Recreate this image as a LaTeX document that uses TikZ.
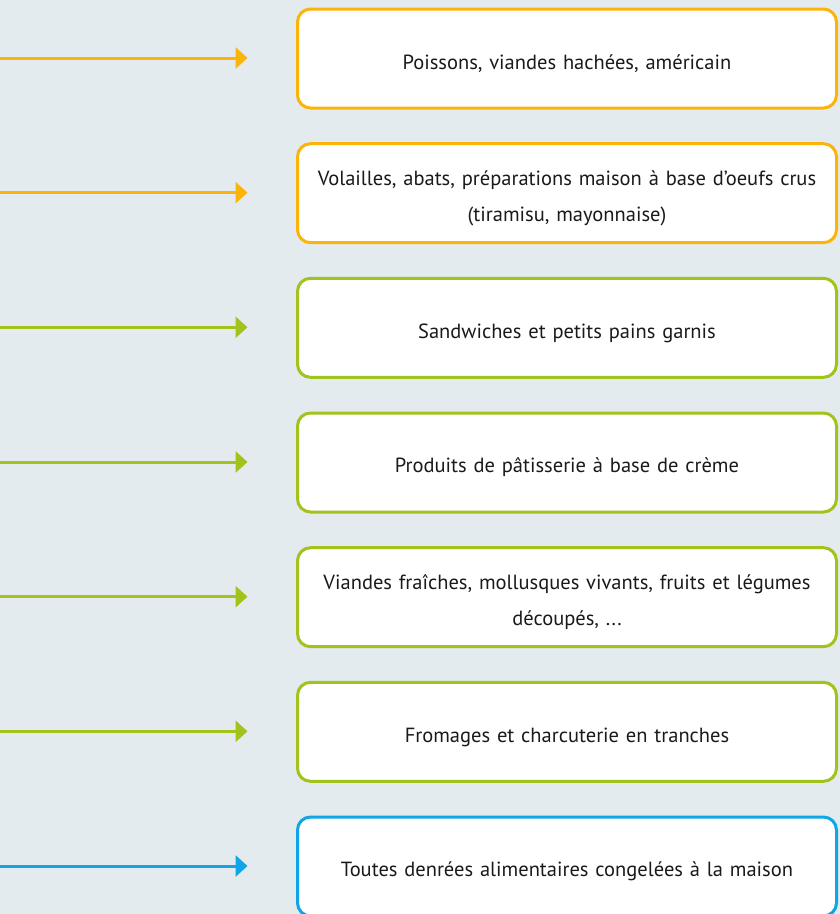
\documentclass[tikz,border=0pt]{standalone}
\usepackage{fontspec}
\setmainfont{PT Sans}
\usetikzlibrary{arrows.meta}
\definecolor{bg}{HTML}{E3EBEE}
\definecolor{orA}{HTML}{FBB40A}
\definecolor{grA}{HTML}{A2C21C}
\definecolor{blA}{HTML}{0FA5E6}
\definecolor{txt}{HTML}{1A1A1A}
\tikzset{
  catbox/.style={draw=#1, line width=3pt, fill=white, rounded corners=13pt,
    minimum width=539pt, minimum height=99pt, inner sep=0pt,
    align=center, text width=525pt, text=txt,
    font=\fontsize{20.5}{36.5}\selectfont,
    execute at begin node={\rule{0pt}{25pt}}},
  link/.style={draw=#1, line width=3pt, shorten >=48.5pt,
    -{Triangle[length=12pt,width=21pt]}, #1},
}
\begin{document}
\begin{tikzpicture}[x=1pt,y=-1pt]
\fill[bg] (0,0) rectangle (840,914);
\useasboundingbox (0,0) rectangle (840,914);
\begin{scope}
\clip (0,0) rectangle (840,914);
\node[catbox=orA] (b1) at (567,58.5) {Poissons, viandes hachées, américain};
\node[catbox=orA] (b2) at (567,193.2) {Volailles, abats, préparations maison à base d’oeufs crus\\(tiramisu, mayonnaise)};
\node[catbox=grA] (b3) at (567,327.8) {Sandwiches et petits pains garnis};
\node[catbox=grA] (b4) at (567,462.5) {Produits de pâtisserie à base de crème};
\node[catbox=grA] (b5) at (567,597.2) {Viandes fraîches, mollusques vivants, fruits et légumes\\découpés, ...};
\node[catbox=grA] (b6) at (567,731.8) {Fromages et charcuterie en tranches};
\node[catbox=blA] (b7) at (567,866.5) {Toutes denrées alimentaires congelées à la maison};
\coordinate (s1) at (-2,58);
\coordinate (s2) at (-2,192.7);
\coordinate (s3) at (-2,327.3);
\coordinate (s4) at (-2,462);
\coordinate (s5) at (-2,596.7);
\coordinate (s6) at (-2,731.3);
\coordinate (s7) at (-2,866);
\draw[link=orA] (s1) -- (s1 -| b1.west);
\draw[link=orA] (s2) -- (s2 -| b2.west);
\draw[link=grA] (s3) -- (s3 -| b3.west);
\draw[link=grA] (s4) -- (s4 -| b4.west);
\draw[link=grA] (s5) -- (s5 -| b5.west);
\draw[link=grA] (s6) -- (s6 -| b6.west);
\draw[link=blA] (s7) -- (s7 -| b7.west);
\end{scope}
\end{tikzpicture}
\end{document}
